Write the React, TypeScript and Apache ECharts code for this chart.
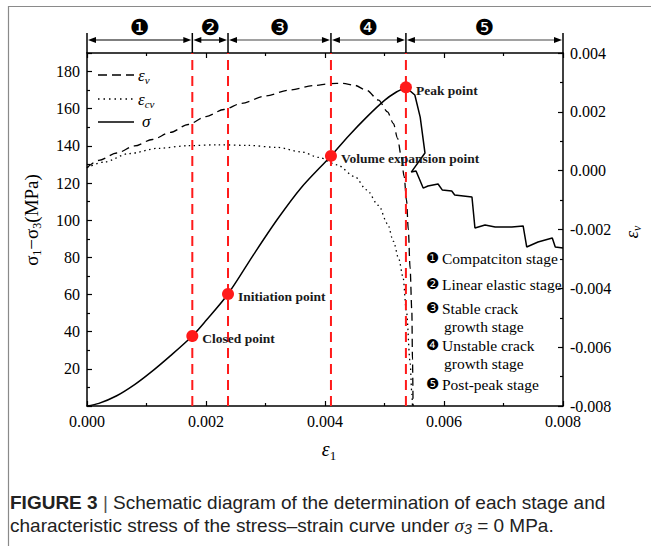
import React, { useEffect, useRef } from 'react';
import * as echarts from 'echarts';

// ---- data (ε1, σ1−σ3 in MPa) ----
const stressPrePeak: [number, number][] = [
  [0, 0], [0.0002, 1.4], [0.0005, 5.5], [0.0008, 11.5], [0.00106, 17.8], [0.0014, 27],
  [0.00177, 37.7], [0.002, 46], [0.00237, 60.3], [0.0028, 81.5], [0.0032, 100.5],
  [0.0036, 117.5], [0.0041, 134.6], [0.0044, 145.5], [0.0047, 155.5], [0.005, 164.5],
  [0.0052, 169], [0.00536, 171.5],
];
const stressPostPeak: [number, number][] = [
  [0.00536, 171.5], [0.00551, 167.4], [0.0056, 155.5], [0.00568, 136.2], [0.00545, 125.9],
  [0.00553, 126.5], [0.00565, 117.3], [0.00573, 118.4], [0.0059, 119.5], [0.00597, 116.3],
  [0.00613, 115.7], [0.00618, 113.6], [0.00647, 112.5], [0.00652, 95.8], [0.00669, 97.4],
  [0.00686, 96.3], [0.00714, 96.3], [0.00733, 96.9], [0.00739, 85.6], [0.00758, 88.3],
  [0.00782, 90.4], [0.00787, 85.6], [0.008, 85.0],
];
// volumetric strain εv (right axis)
const volStrain: [number, number][] = [
  [0, 0.0001], [0.0002, 0.00035], [0.0005, 0.0006], [0.0008, 0.00084], [0.0011, 0.00106],
  [0.0014, 0.0013], [0.0017, 0.00157], [0.002, 0.00184], [0.0023, 0.00208], [0.0026, 0.00229],
  [0.003, 0.00254], [0.0034, 0.00274], [0.0038, 0.00289], [0.0041, 0.00296], [0.0043, 0.00297],
  [0.0045, 0.0029], [0.0047, 0.00273], [0.0049, 0.0024], [0.00505, 0.002], [0.00515, 0.0016],
  [0.00522, 0.0011], [0.00528, 0.0005], [0.00533, -0.0002], [0.00537, -0.001], [0.0054, -0.002],
  [0.00543, -0.0033], [0.00546, -0.0048], [0.00547, -0.0064], [0.00548, -0.008],
];
// crack volumetric strain εcv (right axis)
const crackVolStrain: [number, number][] = [
  [0, 0.0001], [0.0003, 0.0003], [0.0007, 0.00058], [0.0012, 0.00076], [0.0017, 0.00085],
  [0.0022, 0.00088], [0.0027, 0.00086], [0.0032, 0.00079], [0.0036, 0.00064], [0.0039, 0.00045],
  [0.0042, 0.0002], [0.0045, -0.0002], [0.0047, -0.00065], [0.0049, -0.00118], [0.00505, -0.0018],
  [0.00515, -0.0024], [0.00524, -0.003], [0.00531, -0.0036], [0.00537, -0.0048], [0.00543, -0.0065],
  [0.00546, -0.0076], [0.00547, -0.008],
];
const charPointNames = ['Closed point', 'Initiation point', 'Volume expansion point', 'Peak point'];
const charPointStrain = [0.00177, 0.00237, 0.0041, 0.00536];
const charPointStress = [37.7, 60.3, 134.6, 171.5];
const stageBounds = [0, 0.00177, 0.00237, 0.0041, 0.00536, 0.008];
const stageMarks = ['❶', '❷', '❸', '❹', '❺'];
const stageDescriptions: string[][] = [
  ['Compatciton stage'],
  ['Linear elastic stage'],
  ['Stable crack', 'growth stage'],
  ['Unstable crack', 'growth stage'],
  ['Post-peak stage'],
];
const xTicks = { min: 0, max: 0.008, interval: 0.002 };
const yLeft = { min: 0, max: 190, interval: 20 };
const yRight = { min: -0.008, max: 0.004, interval: 0.002 };

const SERIF = 'Liberation Serif';
const SANS = 'Liberation Sans';
const SYM = 'DejaVu Sans';

let ctx: CanvasRenderingContext2D | null = null;
function textWidth(t: string, font: string) {
  if (!ctx) ctx = document.createElement('canvas').getContext('2d');
  ctx!.font = font;
  return ctx!.measureText(t).width;
}

type Seg = { t: string; size: number; italic?: boolean; bold?: boolean; family?: string; dy?: number; color?: string };
function segGroup(segs: Seg[], x: number, y: number, align: 'left' | 'center' = 'left', rotation = 0) {
  const fam = (s: Seg) => s.family || SERIF;
  const widths = segs.map((s) =>
    textWidth(s.t, `${s.italic ? 'italic ' : ''}${s.bold ? 'bold ' : ''}${s.size}px "${fam(s)}"`)
  );
  const total = widths.reduce((a, b) => a + b, 0);
  let cx = align === 'center' ? -total / 2 : 0;
  const children = segs.map((s, i) => {
    const el = {
      type: 'text',
      x: cx,
      y: s.dy || 0,
      style: {
        text: s.t,
        fontSize: s.size,
        fontFamily: fam(s),
        fontStyle: s.italic ? 'italic' : 'normal',
        fontWeight: s.bold ? 'bold' : 'normal',
        fill: s.color || '#000',
        textAlign: 'left',
        textVerticalAlign: 'middle',
        align: 'left',
        verticalAlign: 'middle',
      },
    };
    cx += widths[i];
    return el;
  });
  return { type: 'group', x, y, rotation, children };
}

function axisCommon(fmt: ((v: number) => string) | null) {
  return {
    axisLine: { show: true, onZero: false, lineStyle: { color: '#000', width: 1.5 } },
    axisTick: { show: true, inside: true, length: 5, lineStyle: { color: '#000', width: 1.2 } },
    minorTick: { show: true, splitNumber: 2, length: 3, lineStyle: { color: '#000', width: 1.2 } },
    splitLine: { show: false },
    axisLabel: fmt
      ? { show: true, formatter: fmt, fontFamily: SERIF, fontSize: 16, color: '#000', margin: 7 }
      : { show: false },
  };
}

function buildOption() {
  const fix3 = (v: number) => (Math.abs(v) < 1e-10 ? '0.000' : v.toFixed(3));
  const stageLines = charPointStrain.map((v) => ({
    name: 'stage line', type: 'line', xAxisIndex: 0, yAxisIndex: 0,
    data: [[v, yLeft.min], [v, yLeft.max]],
    showSymbol: false, symbol: 'none', z: 4, silent: true,
    lineStyle: { color: '#ff1a1a', width: 2, type: [10, 6] },
  }));
  return {
    animation: false,
    backgroundColor: '#fff',
    grid: { left: 87, right: 88, top: 53, bottom: 140, containLabel: false },
    xAxis: [
      { type: 'value', position: 'bottom', ...xTicks, ...axisCommon(fix3) },
      { type: 'value', position: 'top', ...xTicks, ...axisCommon(null) },
    ],
    yAxis: [
      {
        type: 'value', position: 'left', ...yLeft,
        ...axisCommon((v: number) => (v === 0 || v % 20 !== 0 ? '' : String(v))),
      },
      { type: 'value', position: 'right', ...yRight, ...axisCommon(fix3) },
    ],
    series: [
      {
        name: 'εcv', type: 'line', xAxisIndex: 0, yAxisIndex: 1, data: crackVolStrain,
        showSymbol: false, symbol: 'none', smooth: 0.3, smoothMonotone: 'x', z: 2,
        lineStyle: { color: '#000', width: 1.3, type: [1.5, 3.5] },
      },
      {
        name: 'εv', type: 'line', xAxisIndex: 0, yAxisIndex: 1, data: volStrain,
        showSymbol: false, symbol: 'none', smooth: 0.3, smoothMonotone: 'x', z: 2,
        lineStyle: { color: '#000', width: 1.3, type: [8, 5] },
      },
      {
        name: 'σ', type: 'line', xAxisIndex: 0, yAxisIndex: 0, data: stressPrePeak,
        showSymbol: false, symbol: 'none', smooth: 0.3, z: 3,
        lineStyle: { color: '#000', width: 1.5 },
      },
      {
        name: 'σ post', type: 'line', xAxisIndex: 0, yAxisIndex: 0, data: stressPostPeak,
        showSymbol: false, symbol: 'none', smooth: false, z: 3,
        lineStyle: { color: '#000', width: 1.5 },
      },
      ...stageLines,
      {
        name: 'points', type: 'scatter', xAxisIndex: 0, yAxisIndex: 0, z: 6,
        data: charPointStrain.map((x, i) => [x, charPointStress[i]]),
        symbol: 'circle', symbolSize: 12,
        itemStyle: { color: '#ff1a1a', opacity: 1 },
        label: {
          show: true, position: 'right', distance: 4, offset: [0, 3],
          formatter: (p: any) => charPointNames[p.dataIndex],
          fontFamily: SERIF, fontWeight: 'bold', fontSize: 13.5, color: '#1a1a1a',
        },
      },
    ],
  };
}

function buildGraphics(px: (v: number) => number, topY: number) {
  const g: any[] = [];
  // figure frame
  g.push({ type: 'line', shape: { x1: 8.5, y1: 6, x2: 8.5, y2: 546 }, style: { stroke: '#8a8a8a', lineWidth: 1.2 } });
  g.push({ type: 'line', shape: { x1: 8, y1: 6.5, x2: 651, y2: 6.5 }, style: { stroke: '#8a8a8a', lineWidth: 1.2 } });

  // stage arrows on top
  const xs = stageBounds.map(px);
  const ay = 40;
  xs.forEach((x) => {
    g.push({ type: 'line', shape: { x1: x, y1: 33, x2: x, y2: topY }, style: { stroke: '#000', lineWidth: 1.5 } });
  });
  for (let i = 0; i < xs.length - 1; i++) {
    const a = xs[i] + 1, b = xs[i + 1] - 1;
    const col = i < 2 ? '#000' : '#444';
    g.push({ type: 'line', shape: { x1: a + 4, y1: ay, x2: b - 4, y2: ay }, style: { stroke: col, lineWidth: 1.2 } });
    g.push({ type: 'polygon', shape: { points: [[a, ay], [a + 8, ay - 3], [a + 8, ay + 3]] }, style: { fill: '#000' } });
    g.push({ type: 'polygon', shape: { points: [[b, ay], [b - 8, ay - 3], [b - 8, ay + 3]] }, style: { fill: '#000' } });
    g.push(segGroup([{ t: stageMarks[i], size: 22, family: SYM }], (xs[i] + xs[i + 1]) / 2, 27, 'center'));
  }

  // legend (top-left)
  g.push({ type: 'line', shape: { x1: 98, y1: 75, x2: 134, y2: 75 }, style: { stroke: '#000', lineWidth: 1.3, lineDash: [9, 5] } });
  g.push({ type: 'line', shape: { x1: 98, y1: 99, x2: 134, y2: 99 }, style: { stroke: '#000', lineWidth: 1.3, lineDash: [1.5, 4] } });
  g.push({ type: 'line', shape: { x1: 98, y1: 122, x2: 134, y2: 122 }, style: { stroke: '#000', lineWidth: 1.5 } });
  g.push(segGroup([{ t: 'ε', size: 17, italic: true }, { t: 'v', size: 11, italic: true, dy: 5 }], 138, 75));
  g.push(segGroup([{ t: 'ε', size: 17, italic: true }, { t: 'cv', size: 11, italic: true, dy: 5 }], 138, 99));
  g.push(segGroup([{ t: 'σ', size: 17, italic: true }], 142, 121));

  // axis names
  g.push(segGroup([{ t: 'ε', size: 20, italic: true }, { t: '1', size: 13, dy: 6 }], 329, 449, 'center'));
  g.push(
    segGroup(
      [
        { t: 'σ', size: 19 }, { t: '1', size: 12, dy: 6 }, { t: '−', size: 19 },
        { t: 'σ', size: 19 }, { t: '3', size: 12, dy: 6 }, { t: '(MPa)', size: 19 },
      ],
      31, 220, 'center', Math.PI / 2
    )
  );
  g.push(segGroup([{ t: 'ε', size: 19, italic: true }, { t: 'v', size: 12, italic: true, dy: 6 }], 631, 232, 'center', Math.PI / 2));

  // stage descriptions
  const rows = [258, 284, 308, 345, 384];
  stageDescriptions.forEach((lines, i) => {
    g.push(segGroup([{ t: stageMarks[i], size: 15, family: SYM }], 426, rows[i]));
    lines.forEach((ln, j) => {
      g.push(segGroup([{ t: ln, size: 15.5 }], j === 0 ? 442 : 444, rows[i] + j * 18.5));
    });
  });

  // caption
  const cap1: Seg[] = [
    { t: 'FIGURE 3 ', size: 16, bold: true, family: SANS, color: '#222' },
    { t: '| ', size: 16, family: SANS, color: '#555' },
    { t: 'Schematic diagram of the determination of each stage and', size: 16, family: SANS, color: '#222' },
  ];
  const w16 = cap1.reduce((s, c) => s + textWidth(c.t, `${c.bold ? 'bold ' : ''}16px "${SANS}"`), 0);
  const fs = Math.min(19, 16 * (614 / w16));
  cap1.forEach((c) => (c.size = fs));
  g.push(segGroup(cap1, 10, 502));
  g.push(
    segGroup(
      [
        { t: 'characteristic stress of the stress–strain curve under ', size: fs, family: SANS, color: '#222' },
        { t: 'σ', size: fs, italic: true, family: SERIF, color: '#222' },
        { t: '3', size: fs * 0.75, italic: true, family: SANS, color: '#222', dy: 4 },
        { t: ' = 0 MPa.', size: fs, family: SANS, color: '#222' },
      ],
      10, 525
    )
  );
  return g;
}

export default function App() {
  const ref = useRef<HTMLDivElement>(null);
  useEffect(() => {
    document.body.style.margin = '0';
    const chart = echarts.init(ref.current!, null, { renderer: 'svg' });
    chart.setOption(buildOption() as any);
    const px = (v: number) => chart.convertToPixel({ xAxisIndex: 0 } as any, v) as unknown as number;
    const topY = chart.convertToPixel({ yAxisIndex: 0 } as any, yLeft.max) as unknown as number;
    chart.setOption({ graphic: buildGraphics(px, topY) } as any);
    return () => chart.dispose();
  }, []);
  return (
    <div
      ref={ref}
      style={{ position: 'fixed', left: 0, top: 0, width: 651, height: 546, background: '#fff' }}
    />
  );
}
